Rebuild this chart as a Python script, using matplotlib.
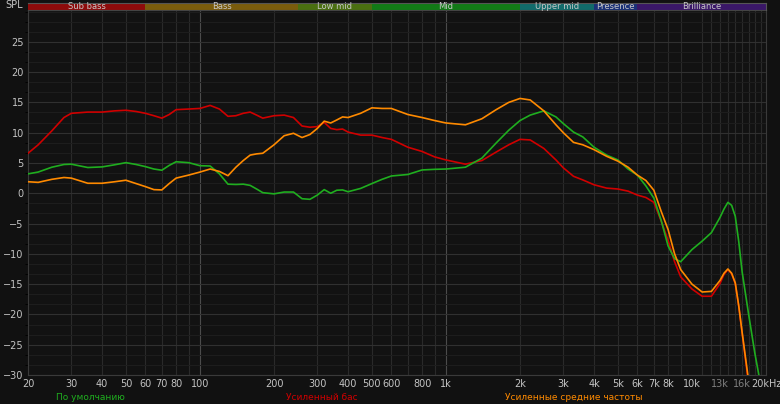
import numpy as np
import matplotlib
matplotlib.use("Agg")
import matplotlib.pyplot as plt
from matplotlib.ticker import FixedLocator, MultipleLocator, NullFormatter

plt.rcParams["font.family"] = ["DejaVu Sans"]

# frequency grid (Hz) and the three responses (dB)
freqs = [20, 22, 25, 28, 30, 35, 40, 45, 50, 55, 60, 65, 70, 75, 80, 90, 100,
         110, 120, 130, 140, 150, 160, 170, 180, 200, 220, 240, 260, 280, 300,
         320, 340, 360, 380, 400, 450, 500, 550, 600, 700, 800, 900, 1000,
         1200, 1400, 1600, 1800, 2000, 2200, 2500, 2800, 3000, 3300, 3600,
         4000, 4500, 5000, 5500, 6000, 6500, 7000, 7500, 8000, 8500, 9000,
         10000, 11000, 12000, 13000, 13500, 14000, 14500, 15000, 15500, 16000,
         17000, 18000, 19000, 20000]

default_db = [3.2, 3.5, 4.3, 4.75, 4.8, 4.25, 4.35, 4.7, 5.05, 4.75, 4.4, 4.0, 3.8,
              4.6, 5.2, 5.05, 4.55, 4.5, 3.2, 1.5, 1.45, 1.5, 1.3, 0.7, 0.1, -0.1,
              0.2, 0.2, -0.9, -1.0, -0.3, 0.6, 0.0, 0.5, 0.55, 0.25, 0.8, 1.6, 2.3,
              2.85, 3.1, 3.85, 3.95, 4.0, 4.3, 5.8, 8.3, 10.4, 12.0, 12.9, 13.6,
              12.6, 11.5, 10.1, 9.3, 7.6, 6.3, 5.5, 4.0, 3.0, 1.2, -0.8, -4.5,
              -8.7, -10.8, -11.3, -9.3, -7.9, -6.5, -4.0, -2.6, -1.5, -2.0, -3.8,
              -8.0, -13.0, -20.0, -26.3, -31.5, -36.0]

bass_db = [6.6, 8.0, 10.3, 12.5, 13.2, 13.4, 13.4, 13.6, 13.7, 13.5, 13.2, 12.8,
           12.4, 13.0, 13.8, 13.9, 14.0, 14.5, 13.9, 12.7, 12.8, 13.2, 13.4,
           12.9, 12.4, 12.8, 12.9, 12.5, 11.1, 10.9, 11.0, 11.7, 10.7, 10.5,
           10.6, 10.1, 9.6, 9.6, 9.2, 8.9, 7.6, 6.9, 6.0, 5.5, 4.8, 5.4, 6.8,
           8.0, 8.9, 8.8, 7.4, 5.5, 4.2, 2.8, 2.2, 1.4, 0.85, 0.7, 0.35, -0.3,
           -0.7, -1.5, -4.6, -7.8, -11.3, -13.8, -15.8, -17.0, -17.0, -14.9,
           -13.4, -12.6, -13.3, -14.9, -18.7, -23.1, -31.6, -38.0, -44.0, -50.0]

mid_db = [1.9, 1.8, 2.3, 2.6, 2.5, 1.65, 1.65, 1.9, 2.15, 1.6, 1.1, 0.6, 0.55,
          1.6, 2.5, 3.0, 3.5, 4.0, 3.6, 2.9, 4.3, 5.4, 6.3, 6.5, 6.6, 8.0, 9.5,
          9.9, 9.2, 9.7, 10.7, 11.9, 11.6, 12.1, 12.6, 12.5, 13.2, 14.1, 14.0,
          14.0, 13.0, 12.5, 12.0, 11.6, 11.3, 12.3, 13.8, 15.0, 15.65, 15.4,
          13.6, 11.3, 10.0, 8.4, 8.0, 7.2, 6.1, 5.3, 4.3, 3.0, 2.1, 0.5, -3.0,
          -6.0, -10.0, -12.6, -15.0, -16.3, -16.2, -14.4, -13.2, -12.5, -13.2,
          -14.8, -18.6, -23.0, -31.0, -38.0, -44.0, -50.0]

series_names = ["По умолчанию", "Усиленный бас", "Усиленные средние частоты"]
series_colors = ["#1fae1f", "#d00000", "#ff8a00"]

bands = ["Sub bass", "Bass", "Low mid", "Mid", "Upper mid", "Presence", "Brilliance"]
band_edges = [20, 60, 250, 500, 2000, 4000, 6000, 20000]
band_colors = ["#8e0b0b", "#7a5c0c", "#4a6f10", "#127a16", "#116b6b", "#1b3178", "#3a1768"]

tick_freqs = [20, 30, 40, 50, 60, 70, 80, 100, 200, 300, 400, 500, 600, 800,
              1000, 2000, 3000, 4000, 5000, 6000, 7000, 8000, 10000, 13000, 16000, 20000]
tick_labels = ["20", "30", "40", "50", "60", "70", "80", "100", "200", "300", "400",
               "500", "600", "800", "1k", "2k", "3k", "4k", "5k", "6k", "7k", "8k",
               "10k", "13k", "16k", "20kHz"]
y_ticks = [25, 20, 15, 10, 5, 0, -5, -10, -15, -20, -25, -30]

W, H = 780, 404
fig = plt.figure(figsize=(W / 100, H / 100), dpi=100, facecolor="#111111")
x0, x1, y_top, y_bot = 28, 766, 10, 375
ax = fig.add_axes([x0 / W, 1 - y_bot / H, (x1 - x0) / W, (y_bot - y_top) / H])
ax.set_facecolor("#121212")
ax.set_xscale("log")
ax.set_xlim(20, 20000)
ax.set_ylim(-30, 30.25)

# grid
grid_freqs = [m * 10 ** e for e in (1, 2, 3) for m in range(1, 10)] + \
             list(range(11000, 20000, 1000))
for f in grid_freqs:
    if f < 20 or f > 20000:
        continue
    strong = f in (100, 1000, 10000)
    ax.axvline(f, color="#4b4b4b" if strong else "#2a2a2a", lw=0.8, zorder=1)
ax.yaxis.set_minor_locator(MultipleLocator(5 / 3))
ax.grid(which="minor", axis="y", color="#1e1e1e", lw=0.7, zorder=0)
ax.grid(which="major", axis="y", color="#303030", lw=0.8, zorder=1)

for vals, col in zip([bass_db, default_db, mid_db], [series_colors[1], series_colors[0], series_colors[2]]):
    ax.plot(freqs, vals, color=col, lw=1.2, zorder=3, solid_joinstyle="round")

ax.xaxis.set_major_locator(FixedLocator(tick_freqs))
ax.set_xticklabels(tick_labels)
ax.xaxis.set_minor_formatter(NullFormatter())
ax.xaxis.set_minor_locator(FixedLocator([]))
ax.set_yticks(y_ticks)
ax.tick_params(axis="both", length=0, labelsize=7, colors="#c4c4c4", pad=3)
for lbl in ax.get_xticklabels():
    if lbl.get_text() in ("13k", "16k"):
        lbl.set_color("#808080")
for sp in ax.spines.values():
    sp.set_color("#3a3a3a")
    sp.set_linewidth(0.8)

# band bar on top
axb = fig.add_axes([x0 / W, 1 - y_top / H, (x1 - x0) / W, 7.5 / H])
axb.set_xscale("log")
axb.set_xlim(20, 20000)
axb.set_ylim(0, 1)
axb.axis("off")
for name, lo, hi, col in zip(bands, band_edges[:-1], band_edges[1:], band_colors):
    axb.axvspan(lo, hi, color=col, lw=0)
    axb.text(np.sqrt(lo * hi), 0.45, name, ha="center", va="center",
             fontsize=6, color="#c8c8c8")
axb.plot([20, 20000], [1, 1], color="#555555", lw=0.8, clip_on=False)
axb.plot([20, 20000], [0, 0], color="#444444", lw=0.8, clip_on=False)
axb.plot([20000, 20000], [0, 1], color="#555555", lw=0.8, clip_on=False)

fig.text(14 / W, 1 - 5 / H, "SPL", ha="center", va="center", fontsize=7, color="#c4c4c4")

legend_x = [90, 322, 574]
for name, col, lx in zip(series_names, series_colors, legend_x):
    fig.text(lx / W, 1 - 397 / H, name, ha="center", va="center", fontsize=6.5,
             color=col)

fig.savefig("out.png", dpi=100, facecolor=fig.get_facecolor())
